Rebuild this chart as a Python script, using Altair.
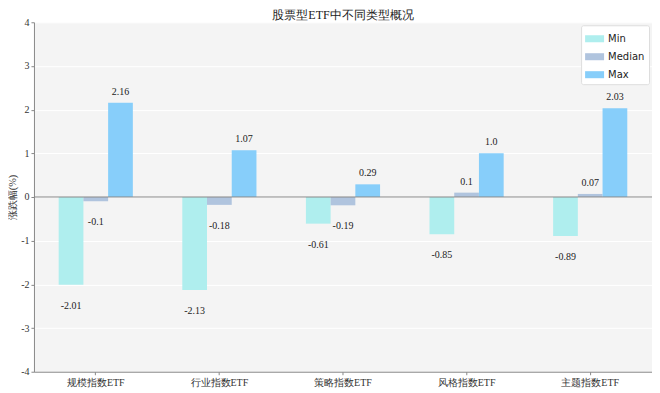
import altair as alt
import pandas as pd

categories = ["规模指数ETF", "行业指数ETF", "策略指数ETF", "风格指数ETF", "主题指数ETF"]
series = ["Min", "Median", "Max"]
min_vals = [-2.01, -2.13, -0.61, -0.85, -0.89]
median_vals = [-0.1, -0.18, -0.19, 0.1, 0.07]
max_vals = [2.16, 1.07, 0.29, 1.0, 2.03]
colors = ["#AFEEEE", "#B0C4DE", "#87CEFA"]
y_ticks = [-4, -3, -2, -1, 0, 1, 2, 3, 4]

rows = []
for s, vals in zip(series, [min_vals, median_vals, max_vals]):
    for c, v in zip(categories, vals):
        rows.append({"cat": c, "series": s, "value": v, "label": str(v)})
df = pd.DataFrame(rows)

SERIF = "Liberation Serif"
H = 350

x_enc = alt.X("cat:N", sort=categories,
              scale=alt.Scale(paddingInner=0.4, paddingOuter=0.2),
              axis=alt.Axis(title=None, labelAngle=0, labelFont=SERIF, labelFontSize=10,
                            labelColor="#333", domainColor="#888", tickColor="#888",
                            tickSize=3, labelPadding=3, grid=False))
xo_enc = alt.XOffset("series:N", sort=series,
                     scale=alt.Scale(paddingInner=0, paddingOuter=0))
y_enc = alt.Y("value:Q", scale=alt.Scale(domain=[-4, 4], nice=False),
              axis=alt.Axis(title="涨跌幅(%)", values=y_ticks,
                            labelExpr="'' + datum.value",
                            titleFont=SERIF, titleFontSize=10.5, titleFontWeight="normal",
                            titleColor="#333", titleX=-21, titleY=H / 2, titleAngle=270,
                            titleAlign="center", titleBaseline="middle",
                            labelFont=SERIF, labelFontSize=10, labelColor="#333",
                            domainColor="#888", tickColor="#888", tickSize=3,
                            labelPadding=2, grid=True, gridColor="white", gridWidth=1))

base = alt.Chart(df)

bars = base.mark_bar().encode(
    x=x_enc, xOffset=xo_enc, y=y_enc,
    color=alt.Color("series:N", sort=series,
                    scale=alt.Scale(domain=series, range=colors),
                    legend=alt.Legend(orient="none", legendX=548, legendY=3, title=None,
                                      symbolType="M-1,-0.37H1V0.37H-1Z", symbolSize=361,
                                      symbolStrokeWidth=0, symbolOpacity=1,
                                      fillColor="white", strokeColor="#ddd", padding=4,
                                      cornerRadius=2, labelFont="DejaVu Sans",
                                      labelFontSize=10, labelColor="#222", rowPadding=3)),
)

zero = alt.Chart(pd.DataFrame({"z": [0]})).mark_rule(color="#888", strokeWidth=1).encode(
    y=alt.Y("z:Q")
)

pos_text = base.transform_filter(alt.datum.value >= 0).mark_text(
    baseline="middle", align="center", dy=-11, font=SERIF, fontSize=10, color="#222"
).encode(x=alt.X("cat:N", sort=categories), xOffset=alt.XOffset("series:N", sort=series),
         y=alt.Y("value:Q"), text="label:N")

neg_text = base.transform_filter(alt.datum.value < 0).mark_text(
    baseline="middle", align="center", dy=21, font=SERIF, fontSize=10, color="#222"
).encode(x=alt.X("cat:N", sort=categories), xOffset=alt.XOffset("series:N", sort=series),
         y=alt.Y("value:Q"), text="label:N")

chart = alt.layer(bars, zero, pos_text, neg_text).properties(
    width=619, height=H,
    autosize="none",
    padding={"left": 26, "top": 14, "right": 0, "bottom": 20},
    title=alt.TitleParams("股票型ETF中不同类型概况", font=SERIF, fontSize=12,
                          fontWeight="normal", color="#222", offset=2, anchor="middle",
                          frame="group", dy=7),
).configure_view(fill="#F4F4F4", stroke=None)

chart.save("out.html", embed_options={"renderer": "svg", "actions": False})
